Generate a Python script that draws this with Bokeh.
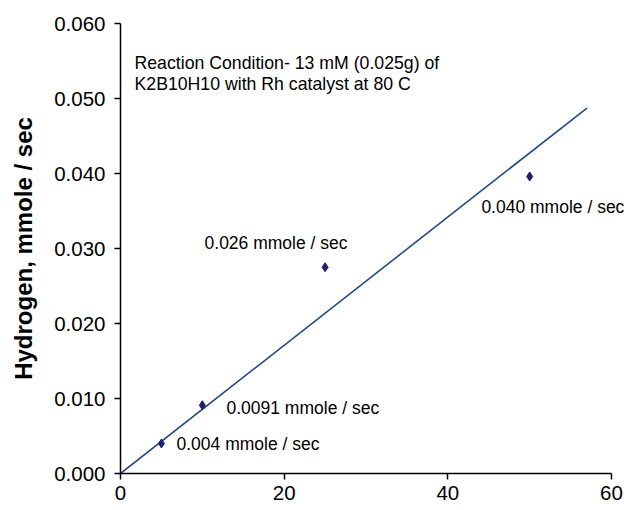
import numpy as np
from bokeh.plotting import figure
from bokeh.models import Label, Range1d, FixedTicker, NumeralTickFormatter
from bokeh.embed import file_html
from bokeh.resources import INLINE

# data
conc = [5, 10, 25, 50]
rate = [0.004, 0.0091, 0.0275, 0.0396]
rate_labels = ["0.004 mmole / sec", "0.0091 mmole / sec", "0.026 mmole / sec", "0.040 mmole / sec"]
x_ticks = [0, 20, 40, 60]
y_ticks = [0.0, 0.01, 0.02, 0.03, 0.04, 0.05, 0.06]
trend_x = [0, 57]
note_lines = ["Reaction Condition- 13 mM (0.025g) of", "K2B10H10 with Rh catalyst at 80 C"]
y_title = "Hydrogen, mmole / sec"

# trendline through origin (least squares)
cx = np.array(conc, dtype=float)
ry = np.array(rate, dtype=float)
slope = float((cx * ry).sum() / (cx * cx).sum())
trend_y = [slope * v for v in trend_x]

p = figure(width=627, height=510, output_backend="svg", toolbar_location=None,
           x_range=Range1d(0, 61.71), y_range=Range1d(0, 0.06),
           min_border_left=120, min_border_right=2, min_border_top=23, min_border_bottom=37)
p.outline_line_color = None
p.xgrid.visible = False
p.ygrid.visible = False
p.background_fill_color = "white"

p.line(trend_x, trend_y, line_color="#234a85", line_width=1.6)
p.scatter(conc, rate, marker="diamond", size=9, fill_color="#1f1f6b", line_color="#1f1f6b")

FONT = "Liberation Sans"

for ax in (p.xaxis[0], p.yaxis[0]):
    ax.axis_line_color = "black"
    ax.axis_line_width = 1.5
    ax.major_tick_line_color = "black"
    ax.major_tick_line_width = 1.5
    ax.major_tick_out = 6
    ax.major_tick_in = 0
    ax.minor_tick_line_color = None
    ax.major_label_text_font = FONT
    ax.major_label_text_font_size = "20.5px"
    ax.major_label_text_color = "black"

p.xaxis.bounds = (0, 60)
p.xaxis.ticker = FixedTicker(ticks=x_ticks)
p.yaxis.ticker = FixedTicker(ticks=y_ticks)
p.yaxis.formatter = NumeralTickFormatter(format="0.000")
p.xaxis.major_label_standoff = 6
p.yaxis.major_label_standoff = 9

p.yaxis.axis_label = y_title
p.yaxis.axis_label_text_font = FONT
p.yaxis.axis_label_text_font_style = "bold"
p.yaxis.axis_label_text_font_size = "24px"
p.yaxis.axis_label_text_color = "black"
p.yaxis.axis_label_standoff = 14

# point labels (annotation anchors, data units)
label_pos = [(6.84, 0.0040), (12.95, 0.0088), (10.27, 0.0307), (44.1, 0.0355)]
for (lx, ly), txt in zip(label_pos, rate_labels):
    p.add_layout(Label(x=lx, y=ly, text=txt, text_font=FONT, text_font_size="17.5px",
                       text_baseline="middle", text_align="left", text_color="black"))

note_pos = [(1.71, 0.0548), (1.71, 0.0520)]
for (lx, ly), txt in zip(note_pos, note_lines):
    p.add_layout(Label(x=lx, y=ly, text=txt, text_font=FONT, text_font_size="17.7px",
                       text_baseline="middle", text_align="left", text_color="black"))

open("out.html", "w").write(file_html(p, INLINE))
